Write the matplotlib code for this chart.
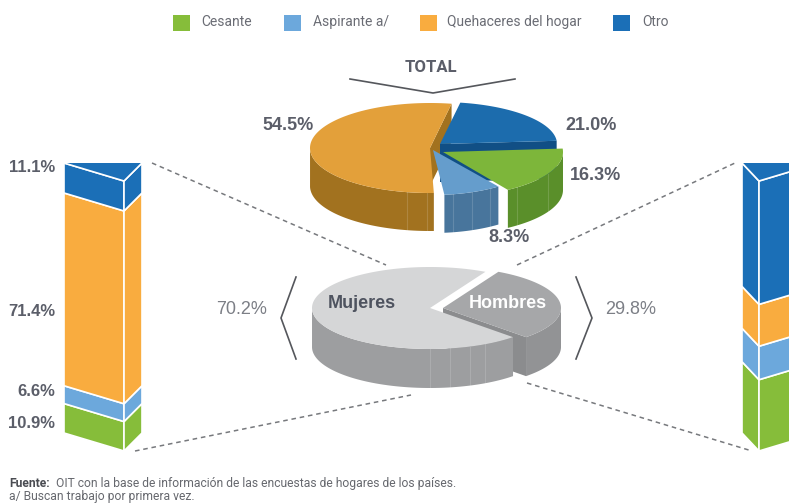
import matplotlib
matplotlib.use('Agg')
import matplotlib.pyplot as plt
from matplotlib.patches import Polygon
import numpy as np

categories = ['Cesante', 'Aspirante a/', 'Quehaceres del hogar', 'Otro']
total_shares = [16.3, 8.3, 54.5, 21.0]
total_labels = ['16.3%', '8.3%', '54.5%', '21.0%']
mujeres_shares = [10.9, 6.6, 71.4, 11.1]
mujeres_labels = ['10.9%', '6.6%', '71.4%', '11.1%']
hombres_shares = [26.4, 12.4, 15.5, 45.7]
sex_names = ['Mujeres', 'Hombres']
sex_shares = [70.2, 29.8]
sex_labels = ['70.2%', '29.8%']

plt.rcParams['font.family'] = ['Liberation Sans']

TOP = {'Cesante': '#7DB63A', 'Aspirante a/': '#659DCC',
       'Quehaceres del hogar': '#E3A03A', 'Otro': '#1C6CAD'}
SIDE = {'Cesante': '#5A8F2A', 'Aspirante a/': '#48759C',
        'Quehaceres del hogar': '#A2721F', 'Otro': '#114F85'}
BAR = {'Cesante': '#86BD3A', 'Aspirante a/': '#6CA8DC',
       'Quehaceres del hogar': '#F9AC3F', 'Otro': '#1B6FB7'}
TEXT = '#5B5E69'

fig = plt.figure(figsize=(7.89, 5.04), dpi=100)
ax = fig.add_axes([0, 0, 1, 1])
ax.set_xlim(0, 789)
ax.set_ylim(504, 0)
ax.axis('off')


def wedge(apex, t0, t1, rx, ry, depth, top, side, face, seams=(), end_face=False):
    # t0 > t1, going clockwise, degrees
    cx, cy = apex
    t = np.radians(np.linspace(t0, t1, 120))
    x = cx + rx*np.cos(t)
    y = cy - ry*np.sin(t)
    # cut face first, then the outer wall, then the top
    if end_face:
        ax.add_patch(Polygon([(cx, cy), (x[-1], y[-1]), (x[-1], y[-1]+depth), (cx, cy+depth)],
                             fc=face, ec='none'))
    front = np.sin(t) <= 0
    if front.any():
        xf, yf = x[front], y[front]
        pts = np.r_[np.c_[xf, yf], np.c_[xf[::-1], yf[::-1]+depth]]
        ax.add_patch(Polygon(pts, fc=side, ec='none'))
        # the pale seams on the wall
        for sx in seams:
            sy = cy + ry*np.sqrt(1 - ((sx-cx)/rx)**2)
            ax.plot([sx, sx], [sy, sy+depth], color='white', lw=0.8, alpha=0.15)
    ax.add_patch(Polygon(np.r_[[[cx, cy]], np.c_[x, y]], fc=top, ec='none'))


# total pie, clockwise from the back
order = ['Otro', 'Cesante', 'Aspirante a/', 'Quehaceres del hogar']
angles = {}
a = 80
for name in order:
    s = total_shares[categories.index(name)]
    angles[name] = (a, a - s*3.6)
    a -= s*3.6
apexes = {'Quehaceres del hogar': (430, 148), 'Otro': (440, 144),
          'Cesante': (443, 152), 'Aspirante a/': (433, 150)}
radii = {'Quehaceres del hogar': (120, 45), 'Otro': (117, 42),
         'Cesante': (120, 45), 'Aspirante a/': (112, 45)}
seams = {'Quehaceres del hogar': (407, 427), 'Otro': (),
         'Cesante': (517, 548), 'Aspirante a/': (453, 472, 490)}
# small angle nudges: orange starts later to open the white gap at the front,
# green runs on a little under the light blue slice
start_nudge = {'Quehaceres del hogar': 4, 'Otro': 0, 'Cesante': 0, 'Aspirante a/': 0}
end_nudge = {'Quehaceres del hogar': 0, 'Otro': 0, 'Cesante': 3, 'Aspirante a/': 0}
shows_face = {'Quehaceres del hogar': True, 'Otro': True, 'Cesante': False, 'Aspirante a/': False}
for name in ['Quehaceres del hogar', 'Otro', 'Cesante', 'Aspirante a/']:
    t0, t1 = angles[name]
    rx, ry = radii[name]
    wedge(apexes[name], t0-start_nudge[name], t1-end_nudge[name], rx, ry, 38, TOP[name], SIDE[name],
          SIDE[name], seams[name], shows_face[name])

# men / women pie
t_h = sex_shares[1]*3.6
wedge((443, 308), 62, 62-t_h, 118, 41, 39, '#A6A7A9', '#929395', '#8B8C8E', end_face=True)
wedge((430, 308), 62-t_h, 62-360, 118, 41, 39, '#D5D6D7', '#9D9EA0', '#9D9EA0', (430, 450, 470, 485))
ax.text(362, 304, sex_names[0], ha='center', va='center', fontsize=13, fontweight='bold', color='#4E535F')
ax.text(508, 304, sex_names[1], ha='center', va='center', fontsize=13, fontweight='bold', color='white')
ax.text(267, 309, sex_labels[0], ha='right', va='center', fontsize=13, color='#7C7F86')
ax.text(605, 309, sex_labels[1], ha='left', va='center', fontsize=13, color='#7C7F86')


def bar3d(x_left, x_front, x_right, y_top, drop, h, shares):
    # shares stack from the bottom up, with a white line between them
    total = sum(shares)
    level = h
    for name, s in zip(categories, shares):
        seg = h*s/total
        y0 = level - seg
        ax.add_patch(Polygon([(x_left, y_top+y0), (x_front, y_top+drop+y0), (x_front, y_top+drop+level),
                              (x_left, y_top+level)], fc=BAR[name], ec='white', lw=1.2))
        ax.add_patch(Polygon([(x_front, y_top+drop+y0), (x_right, y_top+y0),
                              (x_right, y_top+level), (x_front, y_top+drop+level)],
                             fc=BAR[name], ec='white', lw=1.2))
        level = y0
    ax.add_patch(Polygon([(x_left, y_top), (x_right, y_top), (x_front, y_top+drop)],
                         fc=BAR['Otro'], ec='none'))
    ax.plot([x_left, x_front, x_right], [y_top, y_top+drop, y_top], color='white', lw=1.2)


bar3d(64, 124, 142, 163, 18, 270, mujeres_shares)
bar3d(742, 759, 819, 163, 18, 270, hombres_shares)

# labels
ax.text(55, 167, mujeres_labels[3], ha='right', va='center', fontsize=12, fontweight='bold', color=TEXT)
ax.text(55, 311, mujeres_labels[2], ha='right', va='center', fontsize=12, fontweight='bold', color=TEXT)
ax.text(55, 392, mujeres_labels[1], ha='right', va='center', fontsize=12, fontweight='bold', color=TEXT)
ax.text(55, 423, mujeres_labels[0], ha='right', va='center', fontsize=12, fontweight='bold', color=TEXT)
ax.text(288, 125, total_labels[2], ha='center', va='center', fontsize=13, fontweight='bold', color=TEXT)
ax.text(591, 125, total_labels[3], ha='center', va='center', fontsize=13, fontweight='bold', color=TEXT)
ax.text(596, 176, total_labels[0], ha='center', va='center', fontsize=13, fontweight='bold', color=TEXT)
ax.text(509, 238, total_labels[1], ha='center', va='center', fontsize=13, fontweight='bold', color=TEXT)
ax.text(431, 68, 'TOTAL', ha='center', va='center', fontsize=12, family='Roboto', fontweight='bold', color=TEXT)

# chevrons and dashed leaders
ax.plot([350, 433, 515], [79, 93, 79], color='#55575C', lw=1.2)
ax.plot([296, 281, 296], [277, 318, 359], color='#55575C', lw=1.2)
ax.plot([576, 592, 576], [277, 318, 359], color='#55575C', lw=1.2)
for xs, ys in [([152, 386], [163, 265]), ([135, 411], [451, 395]),
               ([517, 735], [265, 163]), ([527, 752], [383, 451])]:
    ax.plot(xs, ys, color='#77797D', lw=1.1, ls=(0, (3, 2.5)))

# legend
for name, sx, tx in zip(categories, [173, 284, 420, 613], [201, 313, 447, 642]):
    ax.add_patch(Polygon([(sx, 15), (sx+17, 15), (sx+17, 31), (sx, 31)], fc=BAR[name], ec='none'))
    ax.text(tx, 22, name, ha='left', va='center', fontsize=10, family='Roboto', color='#6A6C74')

ax.text(9, 487, 'Fuente:', ha='left', va='baseline', fontsize=8.7, family='Roboto', fontweight='bold', color='#4A4C52')
ax.text(56, 487, 'OIT con la base de información de las encuestas de hogares de los países.',
        ha='left', va='baseline', fontsize=8.7, family='Roboto', color='#66686E')
ax.text(9, 500, 'a/ Buscan trabajo por primera vez.', ha='left', va='baseline', fontsize=8.7, family='Roboto', color='#66686E')

fig.savefig('out.png', dpi=100)
